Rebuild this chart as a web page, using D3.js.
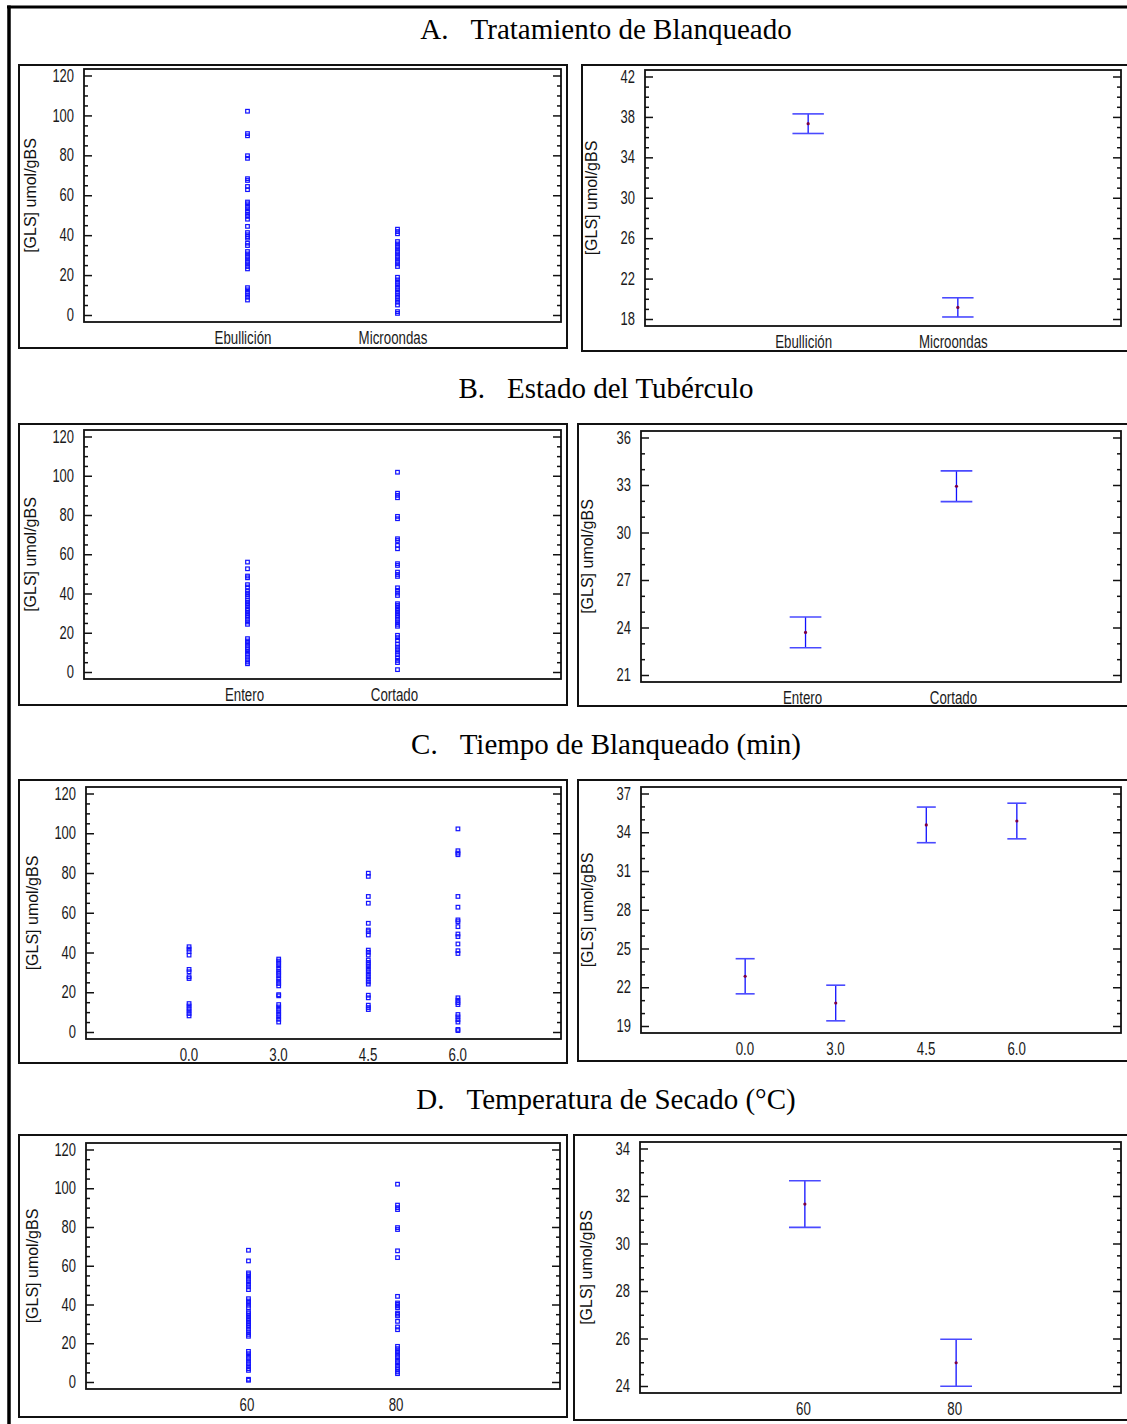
<!DOCTYPE html>
<html>
<head>
<meta charset="utf-8">
<script src="https://cdn.jsdelivr.net/npm/d3@7"></script>
<style>
body { margin: 0; background: #fff; }
svg { display: block; }
</style>
</head>
<body>
<div class="center"></div>
<script>
// ---- data ----

// A. Tratamiento de Blanqueado
var catsA = ["Ebullición", "Microondas"];
var ptsA_ebu = [102.1, 90.9, 89.8, 79.8, 78.5, 68.3, 67.4, 64.4, 62.8, 56.6, 55.7, 54.4, 53.2, 51.9, 50.5, 49.4, 48.0,
    44.4, 41.3, 40.2, 39.3, 38.5, 36.0, 34.8, 31.8, 30.6, 29.3, 28.1, 26.8, 25.6, 24.3, 23.1, 13.7, 12.6, 11.4, 10.0, 8.9, 7.5];
var ptsA_mic = [43.0, 41.8, 40.7, 36.8, 35.6, 34.3, 33.1, 31.8, 30.6, 29.3, 28.1, 26.8, 25.6, 24.3, 18.9, 17.6, 16.4,
    15.1, 13.9, 12.6, 11.4, 10.0, 8.9, 7.5, 6.4, 5.0, 1.7, 0.8];
var meansA = [37.33, 19.15];
var errA = [0.97, 0.95];
var ticksA = [18, 22, 26, 30, 34, 38, 42];

// B. Estado del Tubérculo
var catsB = ["Entero", "Cortado"];
var ptsB_ent = [56.0, 52.6, 48.9, 48.0, 44.5, 43.3, 41.2, 40.2, 39.4, 38.5, 36.5, 35.6, 34.8, 33.9, 32.2, 31.4, 30.5,
    29.7, 28.9, 28.0, 26.8, 25.5, 24.3, 17.0, 15.8, 14.8, 13.6, 12.4, 11.4, 10.2, 9.0, 7.6, 6.3, 5.1, 4.2];
var ptsB_cor = [101.8, 91.1, 90.0, 88.8, 79.3, 78.1, 67.9, 67.0, 64.5, 62.8, 55.2, 54.3, 50.9, 49.7, 48.7, 42.9, 41.6,
    40.2, 39.0, 34.8, 33.9, 33.1, 32.2, 31.4, 30.5, 29.7, 28.9, 28.0, 26.8, 25.5, 24.3, 23.3, 18.7, 17.5, 16.1, 14.1,
    12.7, 11.4, 10.2, 8.8, 7.3, 5.9, 4.8, 1.2];
var meansB = [23.69, 32.92];
var errB = [0.97, 0.97];
var ticksB = [21, 24, 27, 30, 33, 36];

// C. Tiempo de Blanqueado (min)
var catsC = ["0.0", "3.0", "4.5", "6.0"];
var ptsC_00 = [42.9, 41.7, 40.4, 38.7, 31.5, 30.3, 27.8, 26.9, 14.3, 13.1, 11.8, 10.6, 9.3, 8.1];
var ptsC_30 = [36.7, 35.7, 34.5, 33.3, 32.0, 30.6, 29.5, 28.3, 26.9, 25.6, 24.4, 23.2, 18.8, 18.2, 13.8, 12.6, 11.4,
    10.1, 8.9, 7.6, 6.4, 5.0];
var ptsC_45 = [79.9, 78.3, 68.2, 64.8, 54.7, 51.3, 50.5, 48.8, 41.2, 40.1, 38.7, 36.2, 35.0, 34.0, 32.8, 31.6, 30.3,
    29.1, 27.8, 26.6, 25.2, 24.1, 18.5, 17.2, 13.5, 12.3, 11.3];
var ptsC_60 = [102.2, 91.2, 90.0, 89.2, 68.2, 62.8, 56.4, 55.5, 53.0, 49.3, 48.0, 44.3, 40.9, 39.5, 17.2, 16.0, 14.8,
    13.8, 8.8, 7.6, 6.2, 5.0, 1.3, 0.7];
var meansC = [22.85, 20.78, 34.57, 34.87];
var errC = [1.36, 1.38, 1.38, 1.38];
var ticksC = [19, 22, 25, 28, 31, 34, 37];

// D. Temperatura de Secado (°C)
var catsD = ["60", "80"];
var ptsD_60 = [68.0, 62.5, 56.3, 55.4, 54.2, 53.0, 51.7, 50.4, 49.1, 47.7, 43.0, 41.8, 40.8, 39.6, 38.4, 36.2, 35.3,
    34.4, 33.6, 32.7, 31.9, 31.0, 30.1, 29.3, 28.4, 27.2, 25.8, 24.6, 23.6, 15.8, 14.6, 13.3, 12.1, 10.8, 9.5, 8.3,
    6.9, 6.0, 1.4, 0.9];
var ptsD_80 = [102.1, 91.3, 90.0, 89.0, 79.7, 78.7, 67.7, 64.2, 44.2, 40.8, 40.1, 39.3, 38.4, 35.6, 35.0, 34.1, 31.3,
    28.4, 27.0, 18.4, 17.2, 16.0, 15.0, 13.8, 12.6, 11.2, 10.0, 8.6, 7.4, 6.4, 5.2, 4.3];
var meansD = [31.66, 24.98];
var errD = [0.98, 0.99];
var ticksD = [24, 26, 28, 30, 32, 34];

// scatter y ticks (same for all left panels)
var ticksScatter = [0, 20, 40, 60, 80, 100, 120];

var yTitle = "[GLS] umol/gBS";

// ---- layout ----
var rows = [
  { tag: "A.", title: "Tratamiento de Blanqueado", ty: 39, cats: catsA,
    pts: [ptsA_ebu, ptsA_mic], means: meansA, err: errA, ticks: ticksA, minor: 1, shift: -5,
    L: { box: [19, 65, 567, 348], plot: [84, 69, 561, 322] },
    R: { box: [582, 65, 1140, 351], plot: [645, 70, 1121, 326] } },
  { tag: "B.", title: "Estado del Tubérculo", ty: 398, cats: catsB,
    pts: [ptsB_ent, ptsB_cor], means: meansB, err: errB, ticks: ticksB, minor: 1, shift: -3.5,
    L: { box: [19, 424, 567, 705], plot: [84, 430, 561, 679] },
    R: { box: [578, 424, 1140, 706], plot: [641, 431, 1121, 682] } },
  { tag: "C.", title: "Tiempo de Blanqueado (min)", ty: 754, cats: catsC,
    pts: [ptsC_00, ptsC_30, ptsC_45, ptsC_60], means: meansC, err: errC, ticks: ticksC, minor: 1, shift: -0.7,
    L: { box: [19, 780, 567, 1063], plot: [86, 787, 561, 1039] },
    R: { box: [578, 780, 1140, 1061], plot: [641, 787, 1121, 1033] } },
  { tag: "D.", title: "Temperatura de Secado (°C)", ty: 1109, cats: catsD,
    pts: [ptsD_60, ptsD_80], means: meansD, err: errD, ticks: ticksD, minor: 0.5, shift: -2,
    L: { box: [19, 1135, 567, 1417], plot: [86, 1143, 560, 1389] },
    R: { box: [574, 1135, 1140, 1420], plot: [640, 1142, 1121, 1393] } }
];

var W = 1127, H = 1424;
var labelFont = "'Liberation Sans', Arial, sans-serif";

var svg = d3.select(".center").append("svg")
    .attr("width", W)
    .attr("height", H);

svg.append("rect").attr("width", W).attr("height", H).attr("fill", "#fff");

// outer frame (top and left only, the rest is cut off)
svg.append("line").attr("x1", 7).attr("x2", W).attr("y1", 7).attr("y2", 7)
    .attr("stroke", "#000").attr("stroke-width", 3);
svg.append("line").attr("x1", 9).attr("x2", 9).attr("y1", 5.5).attr("y2", H)
    .attr("stroke", "#000").attr("stroke-width", 3.5);

// squeeze text to look like a narrow font
function narrow(sel, k) {
  sel.each(function() {
    var len = this.getComputedTextLength();
    d3.select(this).attr("textLength", len * k).attr("lengthAdjust", "spacingAndGlyphs");
  });
}

function minorTicks(major, step) {
  var lo = d3.min(major), hi = d3.max(major);
  return d3.range(lo, hi + step / 2, step).filter(function(v) {
    return major.every(function(m) { return Math.abs(m - v) > 1e-6; });
  });
}

function drawPanel(cfg, box, plot, ticks, minorStep) {
  // panel box
  svg.append("rect")
      .attr("x", box[0]).attr("y", box[1])
      .attr("width", box[2] - box[0]).attr("height", box[3] - box[1])
      .attr("fill", "none").attr("stroke", "#111").attr("stroke-width", 2);

  var w = plot[2] - plot[0], h = plot[3] - plot[1];
  var g = svg.append("g").attr("transform", "translate(" + plot[0] + "," + plot[1] + ")");

  var y = d3.scaleLinear().domain([d3.min(ticks), d3.max(ticks)]).range([h - 7, 6.5]);
  var x = d3.scalePoint().domain(cfg.cats).range([0, w]).padding(cfg.cats.length > 2 ? 1.15 : 1.09);

  // tick labels
  var lab = g.append("g")
      .call(d3.axisLeft(y).tickValues(ticks).tickSize(0).tickPadding(10).tickFormat(d3.format("d")));
  lab.select(".domain").remove();
  lab.selectAll("text").style("font-family", labelFont).style("font-size", "17.5px").attr("fill", "#1a1a1a");
  narrow(lab.selectAll("text"), 0.74);

  // inward ticks on both sides
  [[d3.axisRight, 0], [d3.axisLeft, w]].forEach(function(a) {
    var gm = g.append("g").attr("transform", "translate(" + a[1] + ",0)")
        .call(a[0](y).tickValues(ticks).tickSize(8).tickFormat(""));
    var gn = g.append("g").attr("transform", "translate(" + a[1] + ",0)")
        .call(a[0](y).tickValues(minorTicks(ticks, minorStep)).tickSize(4).tickFormat(""));
    [gm, gn].forEach(function(s) {
      s.select(".domain").remove();
      s.selectAll("line").attr("stroke", "#111").attr("stroke-width", 1.5);
    });
  });

  // category labels
  var xa = g.append("g").attr("transform", "translate(0," + h + ")")
      .call(d3.axisBottom(x).tickSize(0).tickPadding(10));
  xa.select(".domain").remove();
  xa.selectAll("text").style("font-family", labelFont).style("font-size", "17.5px")
      .attr("fill", "#1a1a1a").attr("dx", cfg.shift);
  narrow(xa.selectAll("text"), 0.76);

  // frame
  g.append("rect").attr("width", w).attr("height", h)
      .attr("fill", "none").attr("stroke", "#111").attr("stroke-width", 1.8);

  // y title
  svg.append("text")
      .attr("transform", "translate(" + (plot[0] - 54) + "," + ((plot[1] + plot[3]) / 2) + ") rotate(-90)")
      .attr("dy", "0.36em")
      .attr("text-anchor", "middle")
      .style("font-family", labelFont)
      .style("font-size", "16px")
      .attr("fill", "#111")
      .text(yTitle);

  return { g: g, x: x, y: y, w: w, h: h };
}

rows.forEach(function(r) {
  // section title
  var t = svg.append("text")
      .attr("x", 606).attr("y", r.ty)
      .attr("text-anchor", "middle")
      .style("font-family", "'Liberation Serif', 'Times New Roman', serif")
      .style("font-size", "29px")
      .attr("fill", "#000");
  t.append("tspan").text(r.tag);
  t.append("tspan").attr("dx", 22).text(r.title);

  // left: scatterplot by level
  var L = drawPanel(r, r.L.box, r.L.plot, ticksScatter, 5);
  var flat = [];
  r.pts.forEach(function(arr, i) {
    arr.forEach(function(v) { flat.push({ cat: r.cats[i], v: v }); });
  });
  L.g.selectAll("rect.pt")
      .data(flat)
      .enter().append("rect")
      .attr("class", "pt")
      .attr("x", function(d) { return L.x(d.cat) - 1.8; })
      .attr("y", function(d) { return L.y(d.v) - 1.8; })
      .attr("width", 3.6)
      .attr("height", 3.6)
      .attr("fill", "none")
      .attr("stroke", "#1414ff")
      .attr("stroke-width", 1.2);

  // right: means with intervals
  var R = drawPanel(r, r.R.box, r.R.plot, r.ticks, r.minor);
  var cap = R.x.step() * 0.105;
  var md = r.cats.map(function(c, i) { return { cat: c, m: r.means[i], e: r.err[i] }; });
  var eb = R.g.selectAll("g.eb").data(md).enter().append("g").attr("class", "eb");
  eb.append("line")
      .attr("x1", function(d) { return R.x(d.cat); })
      .attr("x2", function(d) { return R.x(d.cat); })
      .attr("y1", function(d) { return R.y(d.m + d.e); })
      .attr("y2", function(d) { return R.y(d.m - d.e); })
      .attr("stroke", "#1010ff").attr("stroke-width", 1.3);
  [1, -1].forEach(function(sgn) {
    eb.append("line")
        .attr("x1", function(d) { return R.x(d.cat) - cap; })
        .attr("x2", function(d) { return R.x(d.cat) + cap; })
        .attr("y1", function(d) { return R.y(d.m + sgn * d.e); })
        .attr("y2", function(d) { return R.y(d.m + sgn * d.e); })
        .attr("stroke", "#4a4aff").attr("stroke-width", 1.6);
  });
  eb.append("circle")
      .attr("cx", function(d) { return R.x(d.cat); })
      .attr("cy", function(d) { return R.y(d.m); })
      .attr("r", 1.6)
      .attr("fill", "#7a0046");
});
</script>
</body>
</html>
